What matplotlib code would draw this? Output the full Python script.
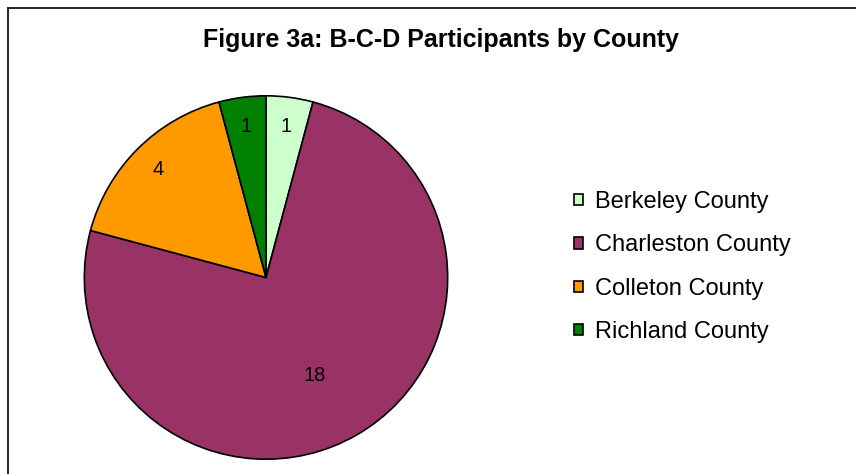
import matplotlib
matplotlib.use('Agg')
import matplotlib.pyplot as plt
from matplotlib.lines import Line2D
import numpy as np

plt.rcParams['font.family'] = ['Liberation Sans', 'DejaVu Sans']

# Data
counties = ['Berkeley County', 'Charleston County', 'Colleton County', 'Richland County']
participants = [1, 18, 4, 1]
colors = ['#CCFFCC', '#993366', '#FF9900', '#008000']

W, H = 856, 474
fig = plt.figure(figsize=(W / 100, H / 100), dpi=100)

# pie axes: centre (266, 277) px from top-left, radius ~183 px
cx, cy, r = 266, 277.5, 183.5
ax = fig.add_axes([(cx - r) / W, (H - cy - r) / H, 2 * r / W, 2 * r / H])
wedges, texts = ax.pie(participants, colors=colors, startangle=90, counterclock=False,
                       radius=1, labels=[str(v) for v in participants], labeldistance=0.84,
                       wedgeprops=dict(edgecolor='black', linewidth=1.2),
                       textprops=dict(fontsize=14.5, color='black'))
for t in texts:
    t.set_ha('center')
    t.set_va('center')
# the big slice label sits closer to the centre
w = wedges[1]
ang = np.deg2rad(w.theta1 + (w.theta2 - w.theta1) * 0.487)
texts[1].set_position((0.6 * np.cos(ang), 0.6 * np.sin(ang)))
ax.set_xlim(-1.01, 1.01)
ax.set_ylim(-1.01, 1.01)
ax.set_aspect('equal')
ax.axis('off')

fig.text(441 / W, 1 - 40 / H, 'Figure 3a: B-C-D Participants by County',
         ha='center', va='center', fontsize=18, fontweight='bold')

fig.legend(wedges, counties, loc='center left', bbox_to_anchor=(574 / W, 1 - 267 / H),
           frameon=False, fontsize=17, handlelength=0.36, handleheight=0.36,
           handletextpad=0.55, labelspacing=0.9, borderpad=0, borderaxespad=0)

# chart border (only left and top edges are inside the picture)
fig.add_artist(Line2D([8 / W, 8 / W], [0, 1 - 7.5 / H], color='#222222', linewidth=1.4))
fig.add_artist(Line2D([8 / W, 1], [1 - 7.5 / H, 1 - 7.5 / H], color='#222222', linewidth=1.4))

fig.savefig('out.png', dpi=100)
